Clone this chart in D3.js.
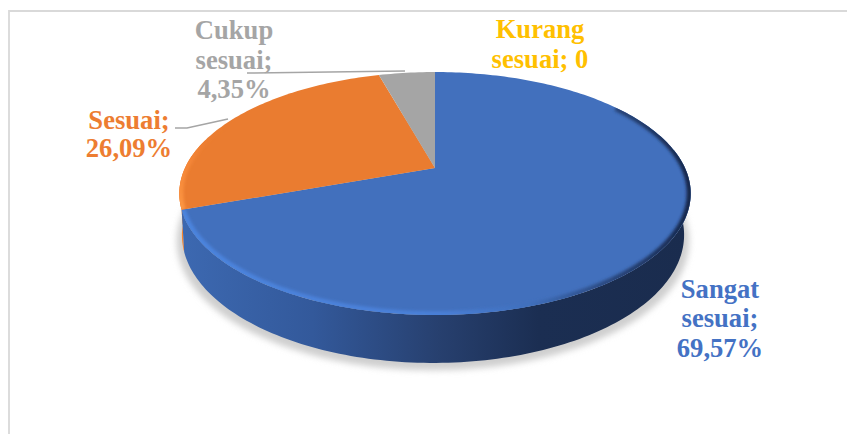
<!DOCTYPE html>
<html><head><meta charset="utf-8">
<script src="https://cdn.jsdelivr.net/npm/d3@7"></script>
<style>html,body{margin:0;padding:0;background:#fff}svg{display:block}
text{font-family:"Liberation Serif","Times New Roman",serif;font-weight:bold;font-size:26.6px;text-anchor:middle}</style>
</head><body><svg id="c" width="847" height="434"></svg>
<script>
// Data, clockwise from 12 o'clock
const categories = ["Sangat sesuai", "Sesuai", "Cukup sesuai", "Kurang sesuai"];
const values = [69.57, 26.09, 4.35, 0];
const labelLines = [["Sangat", "sesuai;", "69,57%"], ["Sesuai;", "26,09%"], ["Cukup", "sesuai;", "4,35%"], ["Kurang", "sesuai; 0"]];
const colors = ["#4270bd", "#ea7c30", "#a5a5a5", "#ffc000"];
const textColors = ["#4472c4", "#ed7d31", "#a5a5a5", "#ffc000"];

// Layout (kept apart from data)
const labelPos = [{x:720,y:[298,327,357]}, {x:129,y:[129,157]}, {x:234,y:[39,69,98]}, {x:540,y:[38,68]}];
const leaders = [null, [[175,128],[187,128],[228,119]], [[247,73],[405,71]], null];
const top3d = {cx:435, cy:168, b:250, a:116.1, k:0.21};
const bot3d = {cx:433, cy:208, b:245.5, a:122.4, k:0.21};

const svg = d3.select("#c");
const defs = svg.append("defs");
const blur = (id,s)=>defs.append("filter").attr("id",id).attr("x","-10%").attr("y","-10%").attr("width","120%").attr("height","120%")
  .append("feGaussianBlur").attr("stdDeviation",s);
blur("b1",1.5); blur("b3",3);
const grad = (id,x1,y1,x2,y2,stops)=>{
  const g = defs.append("linearGradient").attr("id",id).attr("gradientUnits","userSpaceOnUse")
    .attr("x1",x1).attr("y1",y1).attr("x2",x2).attr("y2",y2);
  stops.forEach(s=>g.append("stop").attr("offset",s[0]).attr("stop-color",s[1]).attr("stop-opacity",s[2]===undefined?1:s[2]));
};
grad("sideBlue",186,0,690,0,[[0,"#3c68b0"],[0.25,"#33599b"],[0.5,"#27406f"],[0.7,"#1b2e52"],[1,"#1a2c4e"]]);
grad("rimBlue",186,0,690,0,[[0,"#4c84de"],[0.5,"#4a80d8"],[0.68,"#3f6fbc"],[0.85,"#28457a"],[1,"#15264a"]]);
grad("rimOrange",0,215,0,125,[[0,"#ff9a45"],[0.6,"#f98a3a",0.7],[1,"#ed7d31",0]]);

// Frame
svg.append("path").attr("d",d3.line()([[9,434],[9,11],[847,11]])).attr("fill","none").attr("stroke","#d9d9d9").attr("stroke-width",1.8);

// Perspective projection of the disc; angle is clockwise from 12 o'clock
const proj = (m,t,r=1)=>{
  const u=r*Math.sin(t), v=r*Math.cos(t), d=1+m.k*v;
  return [m.cx+m.b*u/d, m.cy-m.a*v/d];
};
const arcPts = (m,t0,t1,r=1)=>{
  const n=Math.max(2,Math.ceil(Math.abs(t1-t0)/0.02));
  return d3.range(n+1).map(i=>proj(m,t0+(t1-t0)*i/n,r));
};
const line = d3.line();
const slices = d3.pie().sort(null).value(d=>d)(values);
const full = 2*Math.PI;

// Shadow
const shadow = {...bot3d, cy:bot3d.cy+6, b:bot3d.b+5, a:bot3d.a+1};
svg.append("path").attr("d",line(arcPts(shadow,0,full))+"Z").attr("fill","#cfcfcf").attr("filter","url(#b3)");

// Sides
const blue = slices[0], orange = slices[1];
const side = (t0,t1)=>line(arcPts(top3d,t0,t1).concat(arcPts(bot3d,t1,t0)))+"Z";
svg.append("path").attr("d",side(orange.startAngle,orange.startAngle+0.6)).attr("fill","#f5842e");
svg.append("path").attr("d",side(blue.startAngle+Math.PI*0.45,blue.endAngle)).attr("fill","url(#sideBlue)");

// Top faces
const facePath = s=>line([proj(top3d,0,0)].concat(arcPts(top3d,s.startAngle,s.endAngle)))+"Z";
svg.append("g").selectAll("path").data(slices.filter(s=>s.value>0)).join("path")
  .attr("d",facePath).attr("fill",d=>colors[d.index]);

// Bevel along the rim, kept inside each face; the blue one starts past the top of the disc
slices.slice(0,2).forEach((s,i)=>{
  defs.append("clipPath").attr("id","clip"+i).append("path").attr("d",facePath(s));
  const t0 = i ? s.startAngle : s.startAngle+0.95;
  svg.append("g").attr("clip-path",`url(#clip${i})`).append("path")
    .attr("d",line(arcPts(top3d,t0,s.endAngle,0.996)))
    .attr("fill","none").attr("stroke",i?"url(#rimOrange)":"url(#rimBlue)")
    .attr("stroke-width",6).attr("filter","url(#b1)");
});

// Leader lines
svg.append("g").selectAll("path").data(leaders.filter(Boolean)).join("path")
  .attr("d",d=>line(d)).attr("fill","none").attr("stroke","#a5a5a5").attr("stroke-width",1.5);

// Labels
categories.forEach((c,i)=>{
  const t = svg.append("text").attr("fill",textColors[i]);
  labelLines[i].forEach((l,j)=>t.append("tspan").attr("x",labelPos[i].x).attr("y",labelPos[i].y[j]).text(l));
});
</script></body></html>
